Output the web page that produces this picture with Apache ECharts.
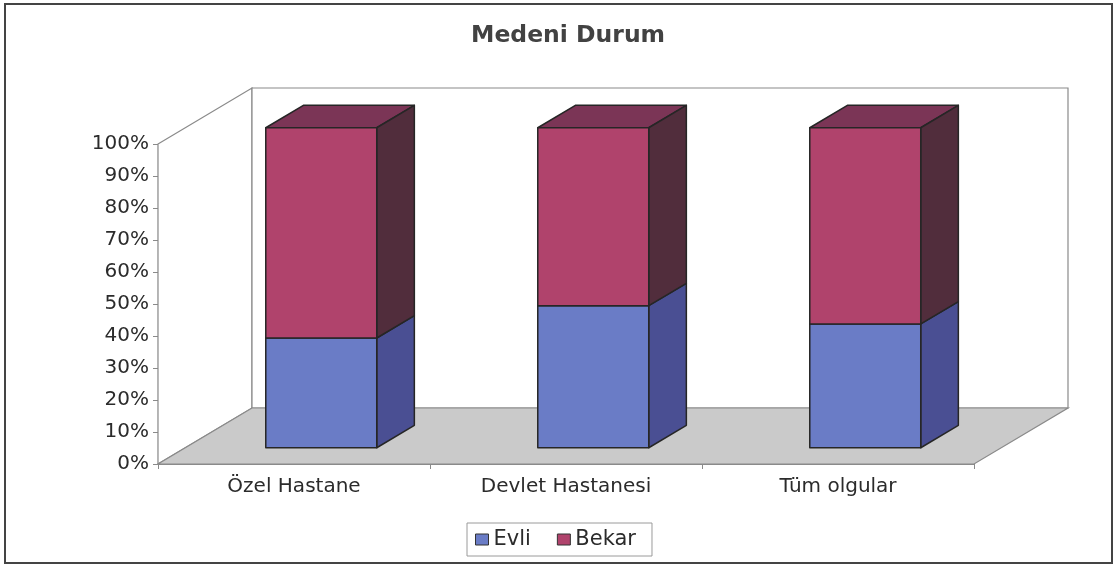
<!DOCTYPE html>
<html>
<head>
<meta charset="utf-8">
<script src="https://cdn.jsdelivr.net/npm/echarts@6/dist/echarts.min.js"></script>
<style>
html,body{margin:0;padding:0;background:#fff;}
#chart{width:1114px;height:567px;}
</style>
</head>
<body>
<div id="chart"></div>
<script>
// ---- data ----
const categories = ['Özel Hastane', 'Devlet Hastanesi', 'Tüm olgular'];
const seriesNames = ['Evli', 'Bekar'];
const evli = [34.3, 44.4, 38.7];
const bekar = [65.7, 55.6, 61.3];
const yTicks = [0, 10, 20, 30, 40, 50, 60, 70, 80, 90, 100];

// ---- style constants ----
const DX = 94, DY = 56;          // 3D depth offset of back wall
const F_FRONT = 0.29, F_BACK = 0.69; // bar depth position
const BAR_FRAC = 0.408;
const FONT = 'DejaVu Sans';
const TEXT = '#2b2b2b';
const colors = {
  Evli: {front: '#6a7cc6', side: '#4a4f93', top: '#5b66ae'},
  Bekar: {front: '#b0436c', side: '#512d3c', top: '#7b3556'}
};

const chart = echarts.init(document.getElementById('chart'));

function wallsRender(params, api) {
  const cs = params.coordSys;
  const x0 = cs.x, y0 = cs.y, x1 = cs.x + cs.width, y1 = cs.y + cs.height;
  const stroke = '#8a8a8a';
  return {
    type: 'group',
    children: [
      {type: 'polygon', shape: {points: [[x0, y0], [x0 + DX, y0 - DY], [x0 + DX, y1 - DY], [x0, y1]]},
       style: {fill: '#ffffff', stroke: stroke, lineWidth: 1.2}},
      {type: 'polygon', shape: {points: [[x0 + DX, y0 - DY], [x1 + DX, y0 - DY], [x1 + DX, y1 - DY], [x0 + DX, y1 - DY]]},
       style: {fill: '#ffffff', stroke: stroke, lineWidth: 1.2}},
      {type: 'polygon', shape: {points: [[x0, y1], [x1, y1], [x1 + DX, y1 - DY], [x0 + DX, y1 - DY]]},
       style: {fill: '#cacaca', stroke: stroke, lineWidth: 1.2}}
    ]
  };
}

function makeBarRender(name) {
  const c = colors[name];
  return function (params, api) {
    const i = api.value(0), v = api.value(1), base = api.value(2);
    const pB = api.coord([i, base]);
    const pT = api.coord([i, base + v]);
    const band = api.size([1, 0])[0];
    const half = band * BAR_FRAC / 2;
    const fx = DX * F_FRONT, fy = DY * F_FRONT;
    const dx = DX * (F_BACK - F_FRONT), dy = DY * (F_BACK - F_FRONT);
    const x0 = pB[0] - half + fx, x1 = pB[0] + half + fx;
    const yb = pB[1] - fy, yt = pT[1] - fy;
    const edge = {stroke: '#262626', lineWidth: 1.5, lineJoin: 'round'};
    return {
      type: 'group',
      children: [
        {type: 'polygon', shape: {points: [[x0, yt], [x1, yt], [x1 + dx, yt - dy], [x0 + dx, yt - dy]]},
         style: Object.assign({fill: c.top}, edge)},
        {type: 'polygon', shape: {points: [[x1, yb], [x1 + dx, yb - dy], [x1 + dx, yt - dy], [x1, yt]]},
         style: Object.assign({fill: c.side}, edge)},
        {type: 'rect', shape: {x: x0, y: yt, width: x1 - x0, height: yb - yt},
         style: Object.assign({fill: c.front}, edge)}
      ]
    };
  };
}

const evliData = categories.map((c, i) => [i, evli[i], 0]);
const bekarData = categories.map((c, i) => [i, bekar[i], evli[i]]);

chart.setOption({
  animation: false,
  backgroundColor: '#ffffff',
  title: {
    text: 'Medeni Durum',
    left: 466,
    top: 19,
    textStyle: {fontFamily: FONT, fontSize: 23.5, fontWeight: 'bold', color: '#424242'}
  },
  legend: {
    data: seriesNames,
    left: 467,
    top: 523,
    orient: 'horizontal',
    icon: 'rect',
    itemWidth: 13,
    itemHeight: 11,
    itemGap: 26,
    padding: [6, 16, 6, 8],
    borderColor: '#9a9a9a',
    borderWidth: 1,
    itemStyle: {borderColor: '#333', borderWidth: 1},
    textStyle: {fontFamily: FONT, fontSize: 21, color: TEXT, padding: [0, 0, 0, 0]}
  },
  grid: {left: 158, right: 140, top: 144, bottom: 103, containLabel: false},
  xAxis: {
    type: 'category',
    data: categories,
    boundaryGap: true,
    axisLine: {show: true, lineStyle: {color: '#8a8a8a', width: 1.2}},
    axisTick: {show: true, length: 5, lineStyle: {color: '#8a8a8a'}},
    axisLabel: {fontFamily: FONT, fontSize: 20, color: TEXT, margin: 13},
    splitLine: {show: false}
  },
  yAxis: {
    type: 'value',
    min: yTicks[0],
    max: yTicks[yTicks.length - 1],
    interval: yTicks[1] - yTicks[0],
    axisLine: {show: true, lineStyle: {color: '#8a8a8a', width: 1.2}},
    axisTick: {show: true, length: 5, lineStyle: {color: '#8a8a8a'}},
    axisLabel: {fontFamily: FONT, fontSize: 20, color: TEXT, margin: 9, formatter: '{value}%'},
    splitLine: {show: false}
  },
  graphic: [{
    type: 'rect',
    shape: {x: 5, y: 4, width: 1107, height: 559},
    style: {fill: 'none', stroke: '#444', lineWidth: 2},
    silent: true,
    z: 100
  }],
  series: [
    {type: 'custom', name: '_walls', coordinateSystem: 'cartesian2d', silent: true, z: 1,
     renderItem: wallsRender, data: [[0, 0]], clip: false},
    {type: 'custom', name: 'Evli', coordinateSystem: 'cartesian2d', z: 3,
     itemStyle: {color: colors.Evli.front}, renderItem: makeBarRender('Evli'),
     encode: {x: 0, y: 1}, data: evliData, clip: false},
    {type: 'custom', name: 'Bekar', coordinateSystem: 'cartesian2d', z: 4,
     itemStyle: {color: colors.Bekar.front}, renderItem: makeBarRender('Bekar'),
     encode: {x: 0, y: 1}, data: bekarData, clip: false}
  ]
});
</script>
</body>
</html>
